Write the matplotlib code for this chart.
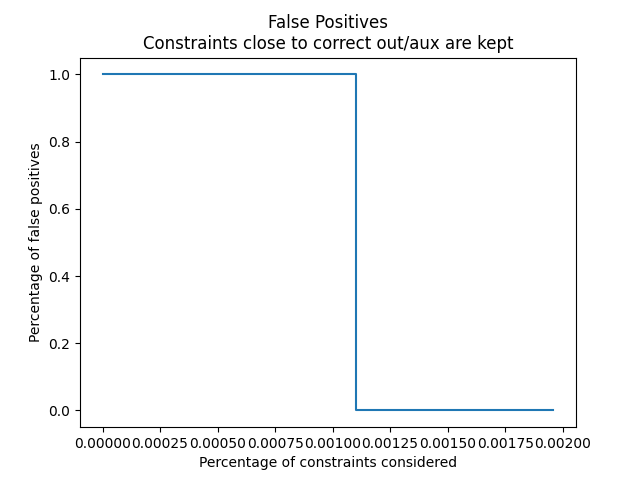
import numpy as np
import matplotlib
matplotlib.use("Agg")
import matplotlib.pyplot as plt

# percentage of constraints considered vs. false positive rate
considered = [0.0, 0.0011, 0.0011, 0.00196]
false_pos = [1.0, 1.0, 0.0, 0.0]

fig, ax = plt.subplots(figsize=(6.4, 4.8), dpi=100)
ax.plot(considered, false_pos)
ax.set_title("False Positives\nConstraints close to correct out/aux are kept")
ax.set_xlabel("Percentage of constraints considered")
ax.set_ylabel("Percentage of false positives")
fig.savefig("out.png")
